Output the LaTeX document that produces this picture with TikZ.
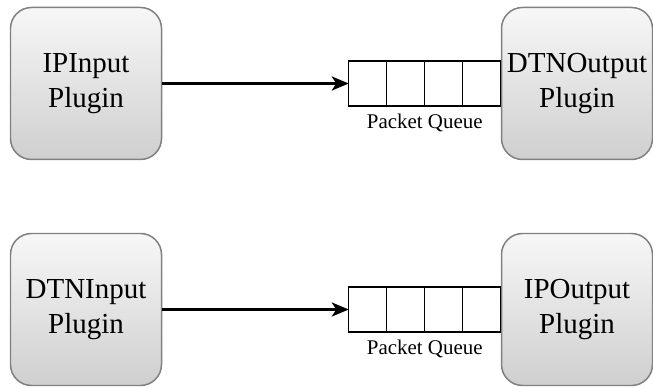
\documentclass[tikz,border=0pt]{standalone}
\usepackage{fontspec}
\setmainfont{Liberation Serif}
\usepackage{tikz}
\usetikzlibrary{arrows.meta}
\usetikzlibrary{positioning}
\tikzset{>={Stealth[length=3.4mm,width=2.8mm,inset=0.9mm]}}
\usepackage{xcolor}
\definecolor{edge}{HTML}{808080}
\definecolor{topc}{HTML}{F7F7F7}
\definecolor{botc}{HTML}{CFCFCF}
\tikzstyle{plugin}=[draw=edge,line width=0.85pt,rounded corners=0.42cm,top color=topc,bottom color=botc,minimum width=3.02cm,minimum height=3.04cm,align=center,font=\fontsize{16.5}{20}\selectfont,inner sep=0pt]
\tikzstyle{cell}=[draw,line width=0.65pt,minimum width=0.76cm,minimum height=0.9cm,inner sep=0pt,outer sep=0pt]
\tikzstyle{flow}=[->,line width=1.7pt]

\begin{document}
\begin{tikzpicture}
  \def\xl{1.72}
  \def\xr{11.54}
  \def\yt{6.07}
  \def\yb{1.55}
  \useasboundingbox (0,0) rectangle (13.06,7.74);
  % first row
  \node[plugin] (ipin) at (\xl,\yt) {IPInput\\Plugin};
  \node[plugin] (dtnout) at (\xr,\yt) {DTNOutput\\Plugin};
  \node[cell,anchor=east] (qa4) at (dtnout.west) {};
  \node[cell,left=0pt of qa4] (qa3) {};
  \node[cell,left=0pt of qa3] (qa2) {};
  \node[cell,left=0pt of qa2] (qa1) {};
  \node[below=3.5pt of qa2.south east,font=\fontsize{11.9}{14}\selectfont,inner sep=1pt] (qa) {Packet Queue};
  \draw[flow] (ipin) -- (qa1);
  % second row
  \node[plugin] (dtnin) at (\xl,\yb) {DTNInput\\Plugin};
  \node[plugin] (ipout) at (\xr,\yb) {IPOutput\\Plugin};
  \node[cell,anchor=east] (qb4) at (ipout.west) {};
  \node[cell,left=0pt of qb4] (qb3) {};
  \node[cell,left=0pt of qb3] (qb2) {};
  \node[cell,left=0pt of qb2] (qb1) {};
  \node[below=3.5pt of qb2.south east,font=\fontsize{11.9}{14}\selectfont,inner sep=1pt] (qb) {Packet Queue};
  \draw[flow] (dtnin) -- (qb1);
\end{tikzpicture}
\end{document}
